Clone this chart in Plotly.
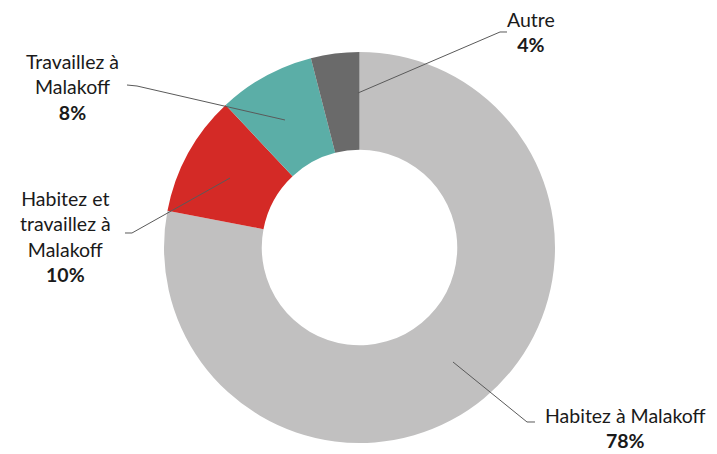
import plotly.graph_objects as go

categories = ["Habitez à Malakoff", "Habitez et travaillez à Malakoff", "Travaillez à Malakoff", "Autre"]
label_text = ["Habitez à Malakoff", "Habitez et<br>travaillez à<br>Malakoff", "Travaillez à<br>Malakoff", "Autre"]
values = [78, 10, 8, 4]
colors = ["#C1C0C0", "#D42A26", "#5BAEA7", "#6A6A6A"]

# page has an 8px body margin; the figure is sized so it fits the window
OFF = 8
W, H = 717 - OFF, 454 - OFF

def px(x):
    return (x - OFF) / W

def py(y):
    return 1 - (y - OFF) / H

fig = go.Figure(go.Pie(
    labels=categories,
    values=values,
    hole=0.5,
    sort=False,
    direction="clockwise",
    rotation=0,
    marker=dict(colors=colors, line=dict(width=0)),
    textinfo="none",
    hoverinfo="label+percent",
    showlegend=False,
    domain=dict(x=[px(163), px(556)], y=[py(443), py(52)]),
))

# label positions (pixels) and leader line paths (pixels)
label_pos = [(625, 428), (65, 236), (72, 87), (531, 32)]
leaders = [
    [(453, 362), (527, 422), (535, 422)],
    [(125, 233), (132, 233), (230, 178)],
    [(127, 85), (137, 86), (285, 120)],
    [(358, 93), (500, 32), (507, 32)],
]

shapes = []
for pts in leaders:
    path = "M " + " L ".join(f"{px(x):.5f},{py(y):.5f}" for x, y in pts)
    shapes.append(dict(type="path", path=path, xref="paper", yref="paper",
                       line=dict(color="#5A5A5A", width=1)))

annotations = []
for txt, v, (x, y) in zip(label_text, values, label_pos):
    annotations.append(dict(
        text=f"{txt}<br><b>{v}%</b>", x=px(x), y=py(y), xref="paper", yref="paper",
        xanchor="center", yanchor="middle", showarrow=False, align="center",
        font=dict(family="Lato", size=19.5, color="#1A1A1A"),
    ))

fig.update_layout(
    width=W, height=H,
    margin=dict(l=0, r=0, t=0, b=0),
    paper_bgcolor="white", plot_bgcolor="white",
    shapes=shapes, annotations=annotations,
)

fig.write_html("out.html")
